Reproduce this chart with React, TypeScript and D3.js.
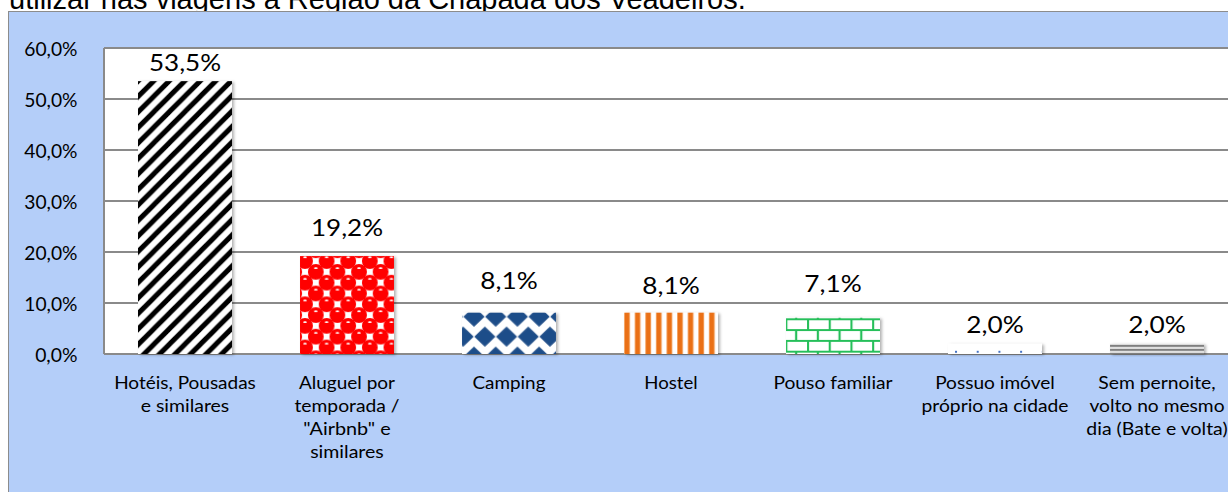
import React from 'react';
import * as d3 from 'd3';

const title = 'utilizar nas viagens à Região da Chapada dos Veadeiros.';
const categories = [
  'Hotéis, Pousadas e similares',
  'Aluguel por temporada / "Airbnb" e similares',
  'Camping',
  'Hostel',
  'Pouso familiar',
  'Possuo imóvel próprio na cidade',
  'Sem pernoite, volto no mesmo dia (Bate e volta)',
];
const categoryLines = [
  ['Hotéis, Pousadas', 'e similares'],
  ['Aluguel por', 'temporada /', '"Airbnb" e', 'similares'],
  ['Camping'],
  ['Hostel'],
  ['Pouso familiar'],
  ['Possuo imóvel', 'próprio na cidade'],
  ['Sem pernoite,', 'volto no mesmo', 'dia (Bate e volta)'],
];
const values = [0.535, 0.192, 0.081, 0.081, 0.071, 0.02, 0.02];
const yTicks = [0, 0.1, 0.2, 0.3, 0.4, 0.5, 0.6];

// layout (not data): label lift above bar top, px
const labelLift = [10, 20, 24, 19, 26, 11, 11];

const W = 1228;
const H = 492;
const plotL = 104;
const plotR = 1238;
const plotT = 48;
const plotB = 354;

const locale = d3.formatLocale({ decimal: ',', thousands: '.', grouping: [3], currency: ['', ''] });
const fmt = locale.format('.1%');

const FONT = 'Lato, "Open Sans", sans-serif';

// approximate Calibri advance widths (em) used to size texts like the original
const cw: Record<string, number> = {
  ' ': 0.226, '%': 0.715, '(': 0.303, ')': 0.303, ',': 0.25, '.': 0.252, '/': 0.386, '"': 0.401,
  A: 0.579, B: 0.544, C: 0.533, H: 0.623, P: 0.517, S: 0.459,
  a: 0.479, b: 0.525, c: 0.423, d: 0.525, e: 0.498, f: 0.305, g: 0.471, h: 0.525, i: 0.229,
  l: 0.229, m: 0.799, n: 0.525, o: 0.527, p: 0.525, r: 0.349, s: 0.391, t: 0.335, u: 0.525,
  v: 0.452, 'é': 0.498, 'ó': 0.527,
};
function calW(s: string) {
  let w = 0;
  for (const ch of s) {
    if (ch >= '0' && ch <= '9') w += 0.507;
    else w += cw[ch] ?? 0.5;
  }
  return w;
}

export default function App() {
  const x = d3.scaleBand<string>().domain(categories).range([plotL, plotR]).paddingInner(0.42).paddingOuter(0.21);
  const y = d3.scaleLinear().domain([0, 0.6]).range([plotB, plotT]);
  const bw = x.bandwidth();

  const patterns = categories.map((c, i) => {
    const bx = x(c) as number;
    const top = y(values[i]);
    const id = `pat${i}`;
    if (i === 0) {
      return (
        <pattern key={id} id={id} patternUnits="userSpaceOnUse" width={15.5} height={15.5} x={bx} y={top}>
          <rect width={15.5} height={15.5} fill="#fff" />
          <path d="M-4,4 L4,-4 M0,15.5 L15.5,0 M11.5,19.5 L19.5,11.5" stroke="#000" strokeWidth={5} />
        </pattern>
      );
    }
    if (i === 1) {
      const s = 21.6;
      const pts = [[0, 0], [s, 0], [0, s], [s, s], [s / 2, s / 2]];
      return (
        <pattern key={id} id={id} patternUnits="userSpaceOnUse" width={s} height={s} x={bx + 5} y={top + 5}>
          <rect width={s} height={s} fill="#fff" />
          {pts.map(([px, py], k) => (
            <g key={k}>
              <circle cx={px} cy={py} r={7.9} fill="#ff0000" />
              <ellipse cx={px} cy={py - 3.8} rx={1.8} ry={0.9} fill="#fff" />
            </g>
          ))}
        </pattern>
      );
    }
    if (i === 2) {
      const w = 21.7;
      const h = 40;
      const pts = [[0, 0], [w, 0], [0, h], [w, h], [w / 2, h / 2]];
      return (
        <pattern key={id} id={id} patternUnits="userSpaceOnUse" width={w} height={h} x={bx + 12} y={top + 4}>
          <rect width={w} height={h} fill="#fff" />
          {pts.map(([px, py], k) => (
            <path
              key={k}
              d={`M${px - 10},${py} L${px},${py - 9.5} L${px + 10},${py} L${px},${py + 9.5} Z`}
              fill="#1f4e89"
              stroke="#1f4e89"
              strokeWidth={1}
              strokeLinejoin="round"
            />
          ))}
        </pattern>
      );
    }
    if (i === 3) {
      return (
        <pattern key={id} id={id} patternUnits="userSpaceOnUse" width={10.6} height={10} x={bx} y={top}>
          <rect width={10.6} height={10} fill="#fff" />
          <rect x={0} width={6} height={10} fill="#f6ae72" />
          <rect x={0.8} width={4.4} height={10} fill="#ea7014" />
        </pattern>
      );
    }
    if (i === 4) {
      const w = 21.7;
      const h = 21.6;
      return (
        <pattern key={id} id={id} patternUnits="userSpaceOnUse" width={w} height={h} x={bx - 0.7} y={top + 1.5}>
          <rect width={w} height={h} fill="#fff" />
          <path
            d={`M0,0 H${w} M0,${h / 2} H${w} M0,${h} H${w} M1,0 V${h / 2} M${w / 2},${h / 2} V${h}`}
            stroke="#26bf5a"
            strokeWidth={2.2}
          />
        </pattern>
      );
    }
    if (i === 5) {
      return (
        <pattern key={id} id={id} patternUnits="userSpaceOnUse" width={21.7} height={21.7} x={bx + 7} y={top + 7}>
          <rect width={21.7} height={21.7} fill="#fff" />
          <rect x={0} y={0} width={2} height={2} fill="#4472c4" />
        </pattern>
      );
    }
    return (
      <pattern key={id} id={id} patternUnits="userSpaceOnUse" width={10} height={4} x={bx} y={top + 1}>
        <rect width={10} height={4} fill="#f2f2f2" />
        <rect y={0} width={10} height={2.2} fill="#7f7f7f" />
      </pattern>
    );
  });

  return (
    <svg width={W} height={H} style={{ position: 'absolute', left: 0, top: 0, display: 'block' }}>
      <defs>
        {patterns}
        <filter id="sh" x="-20%" y="-20%" width="140%" height="140%">
          <feDropShadow dx={2} dy={1} stdDeviation={1.5} floodColor="#000" floodOpacity={0.3} />
        </filter>
      </defs>
      <rect width={W} height={H} fill="#fff" />
      <text x={9} y={9} fontFamily='"Liberation Sans", Arial, sans-serif' fontSize={29} fill="#000">
        {title}
      </text>
      <rect x={8.5} y={11.5} width={1300} height={600} fill="#b4cef9" stroke="#8c8c8c" strokeWidth={1} />
      <rect x={plotL} y={plotT} width={plotR - plotL} height={plotB - plotT} fill="#fff" />
      {yTicks.map((t) => (
        <line key={t} x1={plotL} x2={plotR} y1={y(t)} y2={y(t)} stroke="#8a8a8a" strokeWidth={2} />
      ))}
      <line x1={plotL} x2={plotL} y1={plotT} y2={plotB} stroke="#8a8a8a" strokeWidth={2} />
      {yTicks.map((t) => {
        const s = fmt(t);
        return (
          <text
            key={t}
            x={77.5}
            y={y(t) + 7.5}
            textAnchor="end"
            fontFamily={FONT}
            fontSize={19.5}
            textLength={calW(s) * 21.4}
            lengthAdjust="spacingAndGlyphs"
            fill="#000"
          >
            {s}
          </text>
        );
      })}
      {categories.map((c, i) => (
        <rect
          key={c}
          x={x(c)}
          y={y(values[i])}
          width={bw}
          height={y(0) - y(values[i])}
          fill={`url(#pat${i})`}
          filter="url(#sh)"
        />
      ))}
      {categories.map((c, i) => {
        const s = fmt(values[i]);
        return (
          <text
            key={c}
            x={(x(c) as number) + bw / 2}
            y={y(values[i]) - labelLift[i]}
            textAnchor="middle"
            fontFamily={FONT}
            fontSize={22.5}
            textLength={calW(s) * 29}
            lengthAdjust="spacingAndGlyphs"
            fill="#000"
          >
            {s}
          </text>
        );
      })}
      {categories.map((c, i) =>
        categoryLines[i].map((ln, k) => (
          <text
            key={c + k}
            x={(x(c) as number) + bw / 2}
            y={389 + k * 23}
            textAnchor="middle"
            fontFamily={FONT}
            fontSize={18}
            textLength={calW(ln) * 20.5}
            lengthAdjust="spacingAndGlyphs"
            fill="#000"
          >
            {ln}
          </text>
        ))
      )}
    </svg>
  );
}
